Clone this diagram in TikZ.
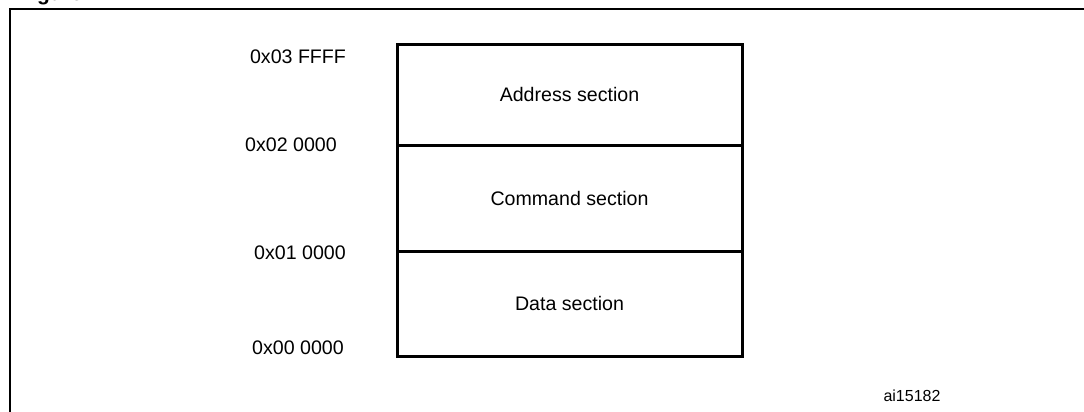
\documentclass[tikz,border=0pt]{standalone}
\usepackage{fontspec}
\setmainfont{Liberation Sans}
\tikzset{
  sect/.style={line width=1.5pt},
  addr/.style={font=\fontsize{9.8}{12}\selectfont},
}
\begin{document}
\begin{tikzpicture}
  [x=0.5pt, y=-0.5pt]
  \useasboundingbox (0,0) rectangle (1084,412);

  % caption, cut off by the page
  \begin{scope}
    \clip (0,0) rectangle (1084,412);
    \node[anchor=base west, inner sep=0pt, font=\bfseries\fontsize{10.5}{12}\selectfont] (cap) at (18,0) {Figure};
  \end{scope}

  % frame
  \draw[line width=1pt] (10,412) -- (10,9) -- (1084,9);

  % memory map
  \draw[sect] (397,44)  rectangle (742,145) node[midway, addr] (adr) {Address section};
  \draw[sect] (397,145) rectangle (742,251) node[midway, addr] (cmd) {Command section};
  \draw[sect] (397,251) rectangle (742,356) node[midway, addr] (dat) {Data section};

  \foreach \x/\y/\t/\n in {298/57/0x03 FFFF/a3, 291/145/0x02 0000/a2,
                           300/253/0x01 0000/a1, 298/348/0x00 0000/a0}{
    \node[addr] (\n) at (\x,\y) {\t};
  }

  \node[font=\fontsize{8}{10}\selectfont] (id) at (912,396) {ai15182};

\end{tikzpicture}
\end{document}
